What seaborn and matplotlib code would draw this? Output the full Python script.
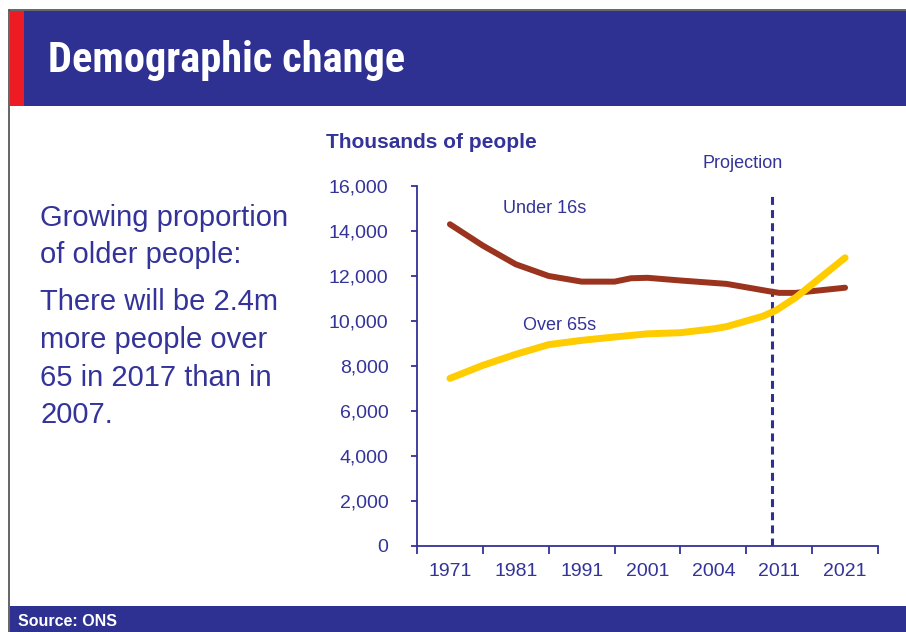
import numpy as np
import pandas as pd
import matplotlib
matplotlib.use("Agg")
import matplotlib.pyplot as plt
from matplotlib import font_manager
from matplotlib.font_manager import FontProperties
from matplotlib.patches import Rectangle
from matplotlib.lines import Line2D
from matplotlib.ticker import FuncFormatter, FixedLocator
import seaborn as sns

# ---- data -------------------------------------------------------------
# Category labels along the x axis
year_labels = ["1971", "1981", "1991", "2001", "2004", "2011", "2021"]

# Under 16s, thousands of people, sampled along the category axis
under16_pos = [0, 0.5, 1, 1.5, 2, 2.5, 2.75, 3, 3.5, 4.2, 4.85, 5.0, 5.25, 6]
under16_val = [14300, 13350, 12520, 12000, 11750, 11750, 11900, 11920,
               11800, 11650, 11320, 11250, 11250, 11480]

# Over 65s, thousands of people
over65_pos = [0, 0.5, 1, 1.5, 2, 2.5, 3, 3.5, 4, 4.2, 4.75, 4.95, 5.25, 6]
over65_val = [7450, 8030, 8520, 8950, 9140, 9290, 9430, 9480,
              9650, 9750, 10210, 10470, 11040, 12810]

# Start of the projected period
projection_pos = 4.89

y_ticks = [0, 2000, 4000, 6000, 8000, 10000, 12000, 14000, 16000]

# ---- style -------------------------------------------------------------
NAVY = "#2E3192"
TEXT_BLUE = "#333399"
RED = "#ED1C24"
BROWN = "#9B341F"
YELLOW = "#FFCC00"

sns.set_theme(style="white")
plt.rcParams["font.family"] = ["Liberation Sans", "DejaVu Sans"]


def condensed_bold():
    """Pick the narrowest bold sans face that is installed."""
    fonts = font_manager.fontManager.ttflist
    prefs = ["Roboto Condensed", "Liberation Sans Narrow",
             "Open Sans Condensed", "Noto Sans Condensed"]
    for name in prefs:
        for f in fonts:
            w = f.weight if isinstance(f.weight, int) else 700
            if f.name == name and w >= 600 and "italic" not in f.style:
                return FontProperties(fname=f.fname)
    for f in fonts:
        w = f.weight if isinstance(f.weight, int) else 700
        if (f.stretch in ("condensed", "semi-condensed", "extra-condensed")
                or "Narrow" in f.name or "Condensed" in f.name) \
                and w >= 600 and f.style == "normal":
            return FontProperties(fname=f.fname)
    return FontProperties(family="DejaVu Sans", weight="bold",
                          stretch="condensed")


W, H = 906, 632
fig = plt.figure(figsize=(W / 100, H / 100), dpi=100)
fig.patch.set_facecolor("white")
renderer = fig.canvas.get_renderer()


def fx(px):
    return px / W


def fy(py):
    return 1 - py / H


def box(x0, y0, x1, y1, color):
    fig.add_artist(Rectangle((fx(x0), fy(y1)), fx(x1) - fx(x0), (y1 - y0) / H,
                             transform=fig.transFigure, facecolor=color,
                             edgecolor="none", zorder=1))


def fit_width(txt, max_px, size):
    """Shrink a text until it spans at most max_px pixels."""
    txt.set_fontsize(size)
    w = txt.get_window_extent(renderer).width
    if w > max_px:
        txt.set_fontsize(size * max_px / w)


# slide frame, header banner and footer band
fig.add_artist(Line2D([fx(9), 1], [fy(10), fy(10)], transform=fig.transFigure,
                      color="#4a4a4a", lw=1.2, zorder=2))
fig.add_artist(Line2D([fx(9), fx(9)], [fy(10), 0], transform=fig.transFigure,
                      color="#4a4a4a", lw=1.2, zorder=2))
box(24, 11, W, 106, NAVY)
box(10, 11, 24, 106, RED)
box(10, 606, W, H, NAVY)

head_font = condensed_bold()
title = fig.text(fx(48), fy(72), "Demographic change", color="white",
                 va="baseline", ha="left", fontproperties=head_font)
fit_width(title, 368, 30.5)
source = fig.text(fx(18), fy(621), "Source: ONS", color="white",
                  va="center", ha="left", fontweight="bold")
fit_width(source, 99, 11.5)

# left-hand commentary
para_lines = ["Growing proportion", "of older people:",
              "There will be 2.4m", "more people over",
              "65 in 2017 than in", "2007."]
baselines = [226, 263, 310, 348, 386, 423]
for line, b in zip(para_lines, baselines):
    fig.text(fx(40), fy(b), line, color=TEXT_BLUE, fontsize=21,
             va="baseline", ha="left")

fig.text(fx(326), fy(148), "Thousands of people", color=TEXT_BLUE,
         fontsize=15, fontweight="bold", va="baseline", ha="left")

# ---- chart -------------------------------------------------------------
ax = fig.add_axes([fx(417), fy(546), fx(878) - fx(417), (546 - 186) / H])
ax.set_facecolor("none")

df_u16 = pd.DataFrame({"pos": under16_pos, "value": under16_val})
df_o65 = pd.DataFrame({"pos": over65_pos, "value": over65_val})

ax.vlines(projection_pos, 0, 15700, colors=NAVY, linewidth=2.2,
          linestyles=(0, (2.6, 1.7)), zorder=2)
sns.lineplot(data=df_u16, x="pos", y="value", ax=ax, color=BROWN,
             linewidth=4.3, sort=True, estimator=None, zorder=3)
sns.lineplot(data=df_o65, x="pos", y="value", ax=ax, color=YELLOW,
             linewidth=5.0, sort=True, estimator=None, zorder=4)

ax.text(1.44, 14980, "Under 16s", color=TEXT_BLUE, fontsize=13,
        ha="center", va="center")
ax.text(1.67, 9820, "Over 65s", color=TEXT_BLUE, fontsize=13,
        ha="center", va="center")
ax.text(4.45, 16980, "Projection", color=TEXT_BLUE, fontsize=13,
        ha="center", va="center", clip_on=False)

ax.set_xlim(-0.5, len(year_labels) - 0.5)
ax.set_ylim(0, 16000)

# tick marks at category boundaries, labels centred in each band
ax.xaxis.set_major_locator(FixedLocator(np.arange(-0.5, len(year_labels), 1.0)))
ax.xaxis.set_major_formatter(FuncFormatter(lambda v, p: ""))
ax.set_xticks(np.arange(len(year_labels)), labels=year_labels, minor=True)
ax.tick_params(axis="x", which="major", direction="out", length=5.5,
               width=1.3, color=TEXT_BLUE, bottom=True)
ax.tick_params(axis="x", which="minor", length=0, pad=12.5,
               labelsize=14, labelcolor=TEXT_BLUE, bottom=True)

ax.set_yticks(y_ticks)
ax.yaxis.set_major_formatter(FuncFormatter(lambda v, p: f"{v:,.0f}"))
ax.tick_params(axis="y", direction="out", length=4.5, width=1.3,
               color=TEXT_BLUE, left=True, pad=16, labelsize=14,
               labelcolor=TEXT_BLUE)

ax.set_xlabel("")
ax.set_ylabel("")
ax.grid(False)
for side in ("top", "right"):
    ax.spines[side].set_visible(False)
for side in ("left", "bottom"):
    ax.spines[side].set_color(TEXT_BLUE)
    ax.spines[side].set_linewidth(1.3)

fig.savefig("out.png", dpi=100, facecolor="white")
